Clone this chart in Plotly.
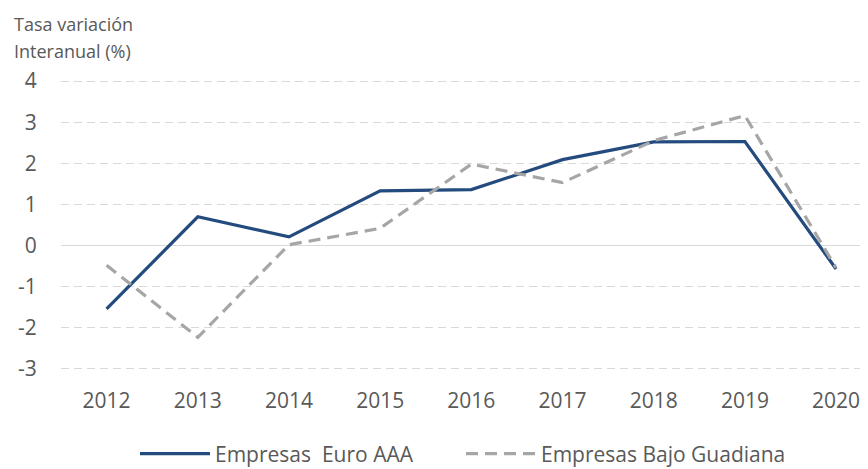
import plotly.graph_objects as go

# ── Data ──────────────────────────────────────────────────────────────────────
years = ["2012", "2013", "2014", "2015", "2016", "2017", "2018", "2019", "2020"]
euro_aaa = [-1.54, 0.70, 0.21, 1.33, 1.36, 2.09, 2.52, 2.53, -0.57]
bajo_guadiana = [-0.48, -2.23, 0.02, 0.42, 1.98, 1.53, 2.55, 3.16, -0.54]
y_ticks = [-3, -2, -1, 0, 1, 2, 3, 4]
y_tick_labels = ["-3", "-2", "-1", "0", "1", "2", "3", "4"]

_BLUE = "#234B7E"
_GREY = "#A6A6A6"
_TEXT = "#595959"
_GRID = "#D9D9D9"
_FONT = "'Open Sans', Lato, sans-serif"

# page body has an 8px margin, so the figure is laid out 8px smaller
OFF = 8
W, H = 868 - OFF, 469 - OFF
PAD = 0.05                      # extra y-range so the edge gridlines show
UNIT = 288 / 7                  # px per unit on the y axis
TOP = 81 - OFF - PAD * UNIT     # px from figure top to plot top
PLOT_H = UNIT * (7 + 2 * PAD)
LEFT = 61 - OFF
PLOT_W = W - LEFT


def py(px):
    """page pixel row -> paper y"""
    return 1 - (px - OFF - TOP) / PLOT_H


def px_(px):
    """page pixel column -> paper x"""
    return (px - OFF - LEFT) / PLOT_W


fig = go.Figure()
fig.add_trace(go.Scatter(
    x=years, y=euro_aaa, mode="lines",
    name="Empresas\u00a0 Euro AAA",
    line=dict(color=_BLUE, width=3.2),
))
fig.add_trace(go.Scatter(
    x=years, y=bajo_guadiana, mode="lines",
    name="Empresas Bajo Guadiana",
    line=dict(color=_GREY, width=3.2, dash="12px,7px"),
))

fig.update_layout(
    width=W, height=H,
    margin=dict(l=LEFT, r=0, t=TOP, b=H - TOP - PLOT_H, autoexpand=False),
    plot_bgcolor="white", paper_bgcolor="white",
    font=dict(family=_FONT, size=21, color=_TEXT),
    showlegend=True,
    legend=dict(
        orientation="h", x=px_(135), xanchor="left",
        y=py(454), yanchor="middle",
        itemwidth=70, entrywidth=241,
        font=dict(size=21, color=_TEXT),
        traceorder="normal",
    ),
    xaxis=dict(
        type="category", range=[-0.5, 8.35], automargin=False,
        showgrid=False, showline=False, zeroline=False,
        ticks="outside", ticklen=11, tickcolor="rgba(0,0,0,0)",
        tickfont=dict(size=21, color=_TEXT),
    ),
    yaxis=dict(
        range=[-3 - PAD, 4 + PAD], tickvals=y_ticks, ticktext=y_tick_labels,
        automargin=False,
        showgrid=True, gridcolor=_GRID, gridwidth=1.3, griddash="8px,5px",
        zeroline=True, zerolinecolor=_GRID, zerolinewidth=1.3,
        showline=False,
        ticks="outside", ticklen=19, tickcolor="rgba(0,0,0,0)",
        tickfont=dict(size=21, color=_TEXT),
    ),
    annotations=[
        dict(text="Tasa variación", xref="paper", yref="paper",
             x=px_(12), y=py(24),
             xanchor="left", yanchor="middle", showarrow=False,
             font=dict(size=18, color=_TEXT)),
        dict(text="Interanual (%)", xref="paper", yref="paper",
             x=px_(12), y=py(51),
             xanchor="left", yanchor="middle", showarrow=False,
             font=dict(size=18, color=_TEXT)),
    ],
)

fig.write_html("out.html")
